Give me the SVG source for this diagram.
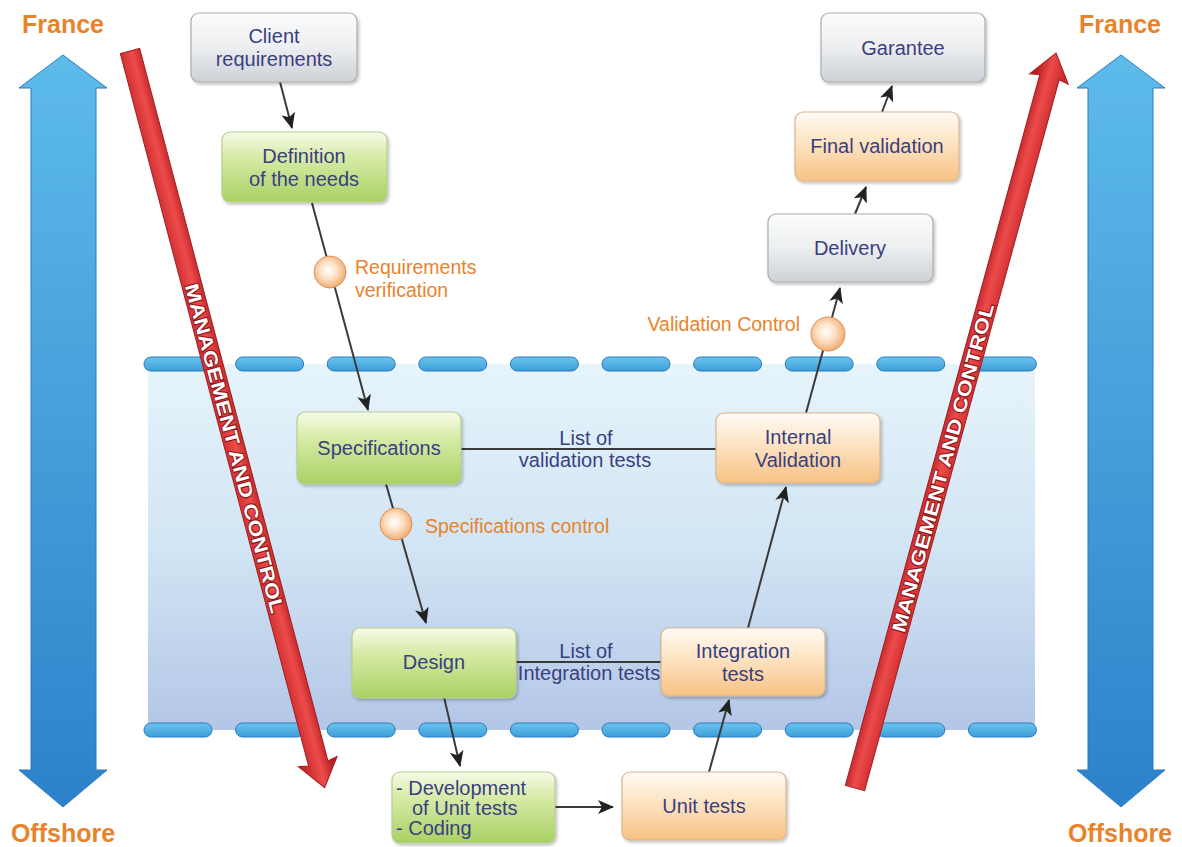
<svg xmlns="http://www.w3.org/2000/svg" width="1182" height="847" viewBox="0 0 1182 847">
<defs>
<style>
.nt{font-family:"Liberation Sans",Arial,sans-serif;font-size:20px;fill:#3A3F7F;text-anchor:middle}
.ntl{font-family:"Liberation Sans",Arial,sans-serif;font-size:20px;fill:#3A3F7F}
.ol{font-family:"Liberation Sans",Arial,sans-serif;font-size:19.5px;fill:#E8832C}
.big{font-family:"Liberation Sans",Arial,sans-serif;font-size:25px;font-weight:bold;fill:#E8832C;text-anchor:middle}
.mc{font-family:"Liberation Sans",Arial,sans-serif;font-size:19px;font-weight:bold;fill:#ffffff;text-anchor:middle;stroke:#8E1518;stroke-width:2;paint-order:stroke}
.box{stroke:#B9B9B9;stroke-width:1.2;filter:url(#sh)}
.g{fill:url(#gGreen);stroke:#B5CF8C}
.o{fill:url(#gOrange);stroke:#D9B592}
.y{fill:url(#gGray);stroke:#A9ADB2}
.ln{stroke:#3A3A3A;stroke-width:2;fill:none}
.ar{marker-end:url(#ah)}
.dash{fill:url(#gDash);stroke:#2C7BBF;stroke-width:1}
.ball{fill:url(#gBall);stroke:#D9925A;stroke-width:1}
.red{fill:url(#gRed);stroke:#A51C1F;stroke-width:1}
.blue{fill:url(#gBlue);stroke:#2C7BBF;stroke-width:1}
</style>
<linearGradient id="gGreen" x1="0" y1="0" x2="0" y2="1"><stop offset="0" stop-color="#F7FBEA"/><stop offset="0.35" stop-color="#D8EBA8"/><stop offset="1" stop-color="#A9D163"/></linearGradient>
<linearGradient id="gOrange" x1="0" y1="0" x2="0" y2="1"><stop offset="0" stop-color="#FFFBF5"/><stop offset="0.4" stop-color="#FDE6C8"/><stop offset="1" stop-color="#F7C283"/></linearGradient>
<linearGradient id="gGray" x1="0" y1="0" x2="0" y2="1"><stop offset="0" stop-color="#FCFCFD"/><stop offset="0.5" stop-color="#ECEEF0"/><stop offset="1" stop-color="#CDD1D6"/></linearGradient>
<linearGradient id="gBand" x1="0" y1="0" x2="0" y2="1"><stop offset="0" stop-color="#E6F4FB"/><stop offset="0.5" stop-color="#D2E5F4"/><stop offset="1" stop-color="#B3C6E6"/></linearGradient>
<linearGradient id="gDash" x1="0" y1="0" x2="0" y2="1"><stop offset="0" stop-color="#6CC4EE"/><stop offset="1" stop-color="#3C9ED8"/></linearGradient>
<linearGradient id="gBlue" x1="0" y1="0" x2="0" y2="1"><stop offset="0" stop-color="#5DBBEA"/><stop offset="1" stop-color="#2C82CA"/></linearGradient>
<linearGradient id="gRed" gradientUnits="userSpaceOnUse" x1="0" y1="-14" x2="0" y2="14"><stop offset="0" stop-color="#B51E22"/><stop offset="0.45" stop-color="#EE4B4B"/><stop offset="1" stop-color="#C92A2D"/></linearGradient>
<radialGradient id="gBall" cx="0.45" cy="0.45" r="0.6"><stop offset="0" stop-color="#FFFFFF"/><stop offset="0.45" stop-color="#FCE0C4"/><stop offset="1" stop-color="#EFA463"/></radialGradient>
<filter id="sh" x="-10%" y="-10%" width="130%" height="140%"><feDropShadow dx="1.5" dy="2" stdDeviation="1.5" flood-color="#000" flood-opacity="0.25"/></filter>
<marker id="ah" viewBox="0 0 16 14" refX="15" refY="7" markerWidth="16" markerHeight="14" markerUnits="userSpaceOnUse" orient="auto"><path d="M0,0 L16,7 L0,14 L4,7 z" fill="#222"/></marker>
</defs>

<rect width="1182" height="847" fill="#ffffff"/>

<g id="band">
<rect x="148" y="364" width="887" height="366" fill="url(#gBand)"/>
</g>

<g id="dashes">
<rect class="dash" x="144" y="357" width="68" height="14" rx="7"/>
<rect class="dash" x="235.6" y="357" width="68" height="14" rx="7"/>
<rect class="dash" x="327.2" y="357" width="68" height="14" rx="7"/>
<rect class="dash" x="418.8" y="357" width="68" height="14" rx="7"/>
<rect class="dash" x="510.4" y="357" width="68" height="14" rx="7"/>
<rect class="dash" x="602" y="357" width="68" height="14" rx="7"/>
<rect class="dash" x="693.6" y="357" width="68" height="14" rx="7"/>
<rect class="dash" x="785.2" y="357" width="68" height="14" rx="7"/>
<rect class="dash" x="876.8" y="357" width="68" height="14" rx="7"/>
<rect class="dash" x="968.4" y="357" width="68" height="14" rx="7"/>
<rect class="dash" x="144" y="723" width="68" height="14" rx="7"/>
<rect class="dash" x="235.6" y="723" width="68" height="14" rx="7"/>
<rect class="dash" x="327.2" y="723" width="68" height="14" rx="7"/>
<rect class="dash" x="418.8" y="723" width="68" height="14" rx="7"/>
<rect class="dash" x="510.4" y="723" width="68" height="14" rx="7"/>
<rect class="dash" x="602" y="723" width="68" height="14" rx="7"/>
<rect class="dash" x="693.6" y="723" width="68" height="14" rx="7"/>
<rect class="dash" x="785.2" y="723" width="68" height="14" rx="7"/>
<rect class="dash" x="876.8" y="723" width="68" height="14" rx="7"/>
<rect class="dash" x="968.4" y="723" width="68" height="14" rx="7"/>
</g>

<g id="left-axis">
<polygon class="blue" points="63,55 107,88 96,88 96,770 107,770 63,807 19,770 31,770 31,88 19,88"/>
<text class="big" x="63" y="33">France</text>
<text class="big" x="63" y="842">Offshore</text>
</g>
<g id="right-axis">
<polygon class="blue" points="1121,55 1165,88 1153,88 1153,770 1165,770 1121,807 1077,770 1088,770 1088,88 1077,88"/>
<text class="big" x="1120" y="33">France</text>
<text class="big" x="1120" y="842">Offshore</text>
</g>

<g id="mgmt-left" transform="translate(130,51) rotate(75.2)">
<polygon class="red" points="0,-10 737,-10 735,-20 762,0 735,20 737,10 0,10"/>
<text class="mc" x="411" y="7" textLength="340" lengthAdjust="spacingAndGlyphs">MANAGEMENT AND CONTROL</text>
</g>
<g id="mgmt-right" transform="translate(855,788) rotate(-74.7)">
<polygon class="red" points="0,-10 737,-10 735,-20 762,0 735,20 737,10 0,10"/>
<text class="mc" x="332" y="7" textLength="340" lengthAdjust="spacingAndGlyphs">MANAGEMENT AND CONTROL</text>
</g>

<g id="connectors">
<line class="ln ar" x1="280" y1="82" x2="292" y2="128"/>
<line class="ln ar" x1="312" y1="203" x2="368" y2="410"/>
<line class="ln ar" x1="386" y1="484" x2="426" y2="623"/>
<line class="ln ar" x1="444" y1="697" x2="460" y2="766"/>
<line class="ln ar" x1="555" y1="807" x2="613" y2="807"/>
<line class="ln ar" x1="709" y1="772" x2="729" y2="700"/>
<line class="ln ar" x1="748" y1="628" x2="786" y2="487"/>
<line class="ln ar" x1="806" y1="413" x2="840" y2="288"/>
<line class="ln ar" x1="855" y1="214" x2="866" y2="187"/>
<line class="ln ar" x1="882" y1="112" x2="892" y2="86"/>
<line class="ln" x1="461" y1="449" x2="716" y2="449"/>
<line class="ln" x1="516" y1="662" x2="661" y2="662"/>
<text class="nt" x="586" y="445">List of</text>
<text class="nt" x="585" y="467">validation tests</text>
<text class="nt" x="586" y="658">List of</text>
<text class="nt" x="589" y="680">Integration tests</text>
</g>

<g id="check-requirements">
<circle class="ball" cx="330" cy="272" r="16"/>
<text class="ol" x="355" y="274">Requirements</text>
<text class="ol" x="355" y="297">verification</text>
</g>
<g id="check-specifications">
<circle class="ball" cx="396" cy="524" r="16"/>
<text class="ol" x="425" y="533">Specifications control</text>
</g>
<g id="check-validation">
<circle class="ball" cx="828" cy="334" r="17"/>
<text class="ol" x="800" y="331" text-anchor="end">Validation Control</text>
</g>

<g id="client">
<rect class="box y" x="191" y="13" width="166" height="69" rx="8"/>
<text class="nt" x="274" y="43">Client</text>
<text class="nt" x="274" y="66">requirements</text>
</g>
<g id="definition">
<rect class="box g" x="222" y="132" width="165" height="70" rx="8"/>
<text class="nt" x="304" y="163">Definition</text>
<text class="nt" x="304" y="186">of the needs</text>
</g>
<g id="specifications">
<rect class="box g" x="297" y="412" width="164" height="72" rx="8"/>
<text class="nt" x="379" y="455">Specifications</text>
</g>
<g id="design">
<rect class="box g" x="352" y="628" width="164" height="70" rx="8"/>
<text class="nt" x="434" y="669">Design</text>
</g>
<g id="development">
<rect class="box g" x="392" y="772" width="163" height="71" rx="8"/>
<text class="ntl" x="396" y="795">- Development</text>
<text class="ntl" x="412" y="815">of Unit tests</text>
<text class="ntl" x="396" y="835">- Coding</text>
</g>
<g id="unit-tests">
<rect class="box o" x="622" y="772" width="164" height="68" rx="8"/>
<text class="nt" x="704" y="813">Unit tests</text>
</g>
<g id="integration-tests">
<rect class="box o" x="661" y="628" width="164" height="68" rx="8"/>
<text class="nt" x="743" y="658">Integration</text>
<text class="nt" x="743" y="681">tests</text>
</g>
<g id="internal-validation">
<rect class="box o" x="716" y="413" width="164" height="70" rx="8"/>
<text class="nt" x="798" y="444">Internal</text>
<text class="nt" x="798" y="467">Validation</text>
</g>
<g id="delivery">
<rect class="box y" x="768" y="214" width="165" height="68" rx="8"/>
<text class="nt" x="850" y="255">Delivery</text>
</g>
<g id="final-validation">
<rect class="box o" x="795" y="112" width="164" height="69" rx="8"/>
<text class="nt" x="877" y="153">Final validation</text>
</g>
<g id="garantee">
<rect class="box y" x="821" y="13" width="164" height="69" rx="8"/>
<text class="nt" x="903" y="55">Garantee</text>
</g>
</svg>
